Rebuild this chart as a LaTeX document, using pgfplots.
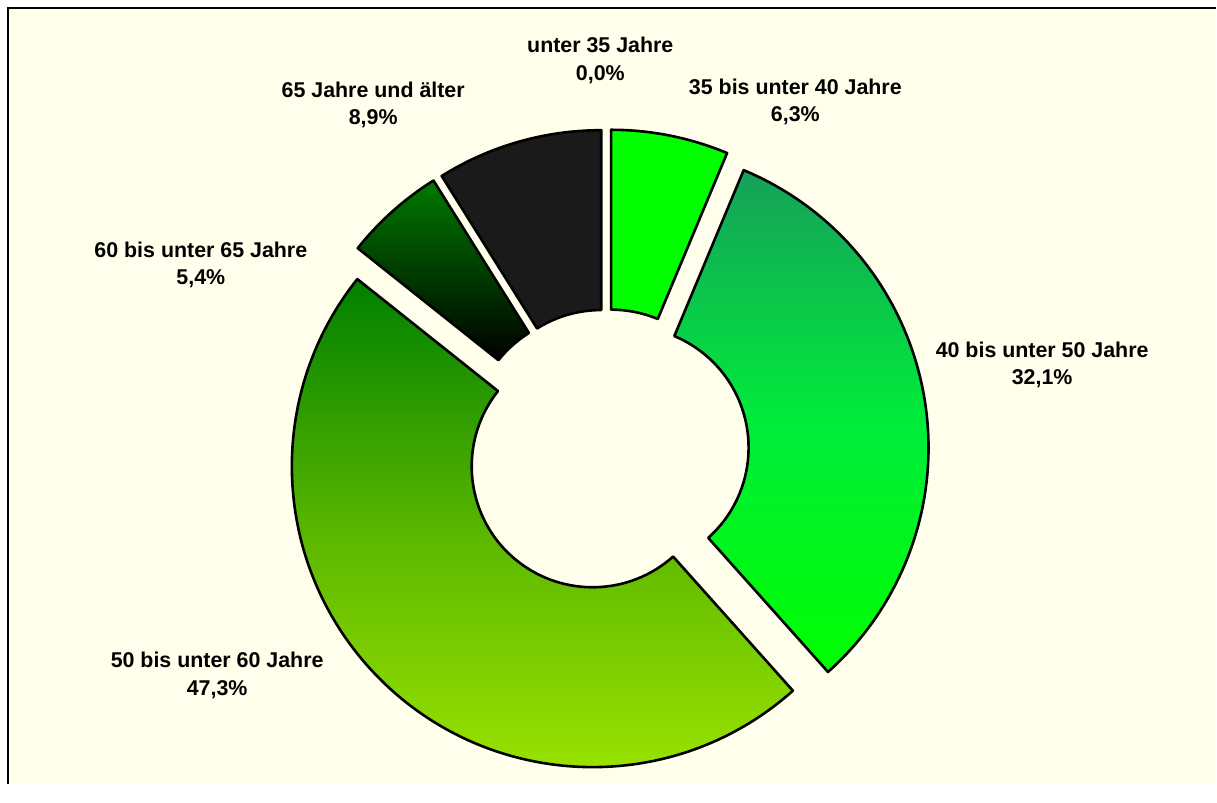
\documentclass[border=0pt]{standalone}
\usepackage{pgfplots}
\pgfplotsset{compat=1.18}
\usepackage{fontspec}
\setmainfont{Liberation Sans}
\definecolor{bg}{RGB}{255,255,235}
\definecolor{c1top}{RGB}{0,255,0}
\definecolor{c2top}{RGB}{22,160,90}
\definecolor{c2mid}{RGB}{0,236,58}
\definecolor{c2bot}{RGB}{0,255,0}
\definecolor{c3top}{RGB}{0,128,0}
\definecolor{c3mid}{RGB}{92,184,0}
\definecolor{c3bot}{RGB}{162,232,0}
\definecolor{c4top}{RGB}{0,122,0}
\definecolor{c4mid}{RGB}{0,61,0}
\definecolor{c4bot}{RGB}{0,0,0}
\definecolor{c5}{RGB}{26,26,26}
% sector: start %, end %, top colour, middle colour, bottom colour
\newcommand\sector[5]{%
  \draw[line width=1.3pt, line join=round, top color=#3, bottom color=#5, middle color=#4]
   (axis cs:{607.5+21*cos(90-1.8*(#1+#2))+301*cos(90-3.6*#1)},{333.5+21*sin(90-1.8*(#1+#2))+301*sin(90-3.6*#1)})
   arc[start angle={90-3.6*#1}, end angle={90-3.6*#2}, radius=150.5pt]
   -- (axis cs:{607.5+21*cos(90-1.8*(#1+#2))+121*cos(90-3.6*#2)},{333.5+21*sin(90-1.8*(#1+#2))+121*sin(90-3.6*#2)})
   arc[start angle={90-3.6*#2}, end angle={90-3.6*#1}, radius=60.5pt]
   -- cycle;}
\newcommand\lab[4]{% x, baseline1 (px from top), line1, line2
  \node[anchor=base, inner sep=0pt, font=\bfseries\fontsize{10.7}{12}\selectfont] at (axis cs:#1,{785-#2}) {#3};
  \node[anchor=base, inner sep=0pt, font=\bfseries\fontsize{10.7}{12}\selectfont] at (axis cs:#1,{785-#2-27.5}) {#4};}
\begin{document}
\begin{tikzpicture}
\begin{axis}[x=0.5pt, y=0.5pt, xmin=0, xmax=1217, ymin=0, ymax=785,
  hide axis, clip=false]
  \fill[white] (axis cs:0,0) rectangle (axis cs:1217,785);
  \fill[bg] (axis cs:8,0) rectangle (axis cs:1217,777);
  \draw[line width=1pt] (axis cs:7,777) -- (axis cs:1217,777);
  \draw[line width=1pt] (axis cs:8,777) -- (axis cs:8,0);
  % shares: 0.0, 6.3, 32.1, 47.3, 5.4, 8.9 (cumulative bounds below)
  \sector{0.0}{6.3}{c1top}{c1top}{c1top}
  \sector{6.3}{38.4}{c2top}{c2mid}{c2bot}
  \sector{38.4}{85.7}{c3top}{c3mid}{c3bot}
  \sector{85.7}{91.1}{c4top}{c4mid}{c4bot}
  \sector{91.1}{100.0}{c5}{c5}{c5}
  \lab{600.8}{52.7}{unter 35 Jahre}{0,0\%}
  \lab{796}{94.5}{35 bis unter 40 Jahre}{6,3\%}
  \lab{1043}{357.5}{40 bis unter 50 Jahre}{32,1\%}
  \lab{217.3}{668.3}{50 bis unter 60 Jahre}{47,3\%}
  \lab{201}{257.5}{60 bis unter 65 Jahre}{5,4\%}
  \lab{373.5}{97.5}{65 Jahre und älter}{8,9\%}
\end{axis}
\end{tikzpicture}
\end{document}
